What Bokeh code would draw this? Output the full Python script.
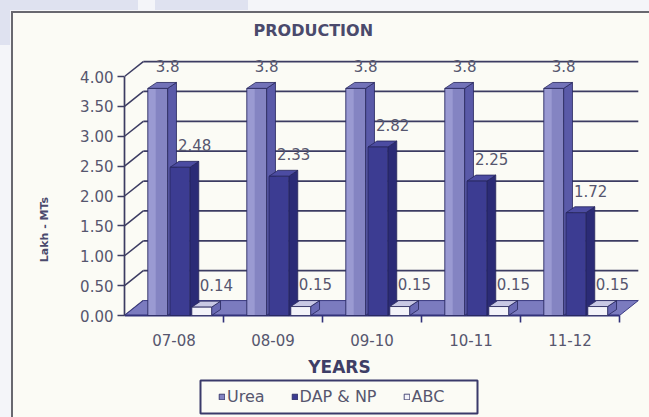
from bokeh.plotting import figure
from bokeh.models import (Range1d, FixedTicker, Label, BoxAnnotation, Legend,
                          LegendItem, NumeralTickFormatter, Title)
from bokeh.core.properties import value
from bokeh.embed import file_html
from bokeh.resources import INLINE

# ---- data -------------------------------------------------------------
years = ["07-08", "08-09", "09-10", "10-11", "11-12"]
urea = [3.8, 3.8, 3.8, 3.8, 3.8]
dap_np = [2.48, 2.33, 2.82, 2.25, 1.72]
abc = [0.14, 0.15, 0.15, 0.15, 0.15]
y_ticks = [0.0, 0.5, 1.0, 1.5, 2.0, 2.5, 3.0, 3.5, 4.0]

# ---- geometry (one x unit = one category, one y unit = 1 lakh MT) -----
W, H = 649, 417
PX_X = 99.0      # pixels per category
PX_Y = 59.75     # pixels per lakh MT
ORIGIN_X = 124   # pixel column of the front value axis
ORIGIN_Y = 315   # pixel row of the zero line
TOP = 41         # pixel row where the plotting frame starts


def ux(px):
    return (px - ORIGIN_X) / PX_X


def uy(py):
    return (ORIGIN_Y - py) / PX_Y


WALL_DX, WALL_DY = 0.19, 0.25      # depth of the back wall
BAR_DX, BAR_DY = 0.09, 0.10        # depth of each column
BAR_W = 0.20

FONT = "DejaVu Sans"
TXT = "#56566e"
GRID = "#3c3c62"
EDGE = "#26265c"
CREAM = "#fbfbf5"

p = figure(width=W, height=H, output_backend="svg", toolbar_location=None,
           x_range=Range1d(0, ux(W)), y_range=Range1d(uy(H), uy(TOP)),
           x_axis_location=None,
           min_border_left=ORIGIN_X, min_border_right=0, min_border_top=TOP,
           min_border_bottom=0)
p.background_fill_alpha = 0
p.border_fill_alpha = 0
p.outline_line_color = None
p.grid.visible = False

# page backdrop: chart frame lines, cream panel and the header tabs
p.styles = {
    "background": ", ".join([
        "linear-gradient(#dfe2f0,#dfe2f0) 0px 0px / 138px 10px no-repeat",
        "linear-gradient(#dfe2f0,#dfe2f0) 155px 0px / 93px 10px no-repeat",
        "linear-gradient(#dfe2f0,#dfe2f0) 0px 0px / 10px 45px no-repeat",
        "linear-gradient(#68686f,#68686f) 11px 11px / 2px 406px no-repeat",
        "linear-gradient(#68686f,#68686f) 11px 11px / 638px 2px no-repeat",
        f"linear-gradient({CREAM},{CREAM}) 13px 13px / 636px 404px no-repeat",
        "#f4f5f9",
    ])
}

# ---- chart title ------------------------------------------------------------
p.add_layout(Title(text="PRODUCTION", align="left", offset=253 - ORIGIN_X,
                   standoff=4, text_font=FONT, text_font_size="16px",
                   text_font_style="bold", text_color="#4a4a6c"), "above")

# ---- back wall, side wall and floor ------------------------------------
n = len(years)
wall_levels = [v for v in y_ticks if v > 0]
p.segment(x0=[WALL_DX] * len(wall_levels), x1=[n + WALL_DX] * len(wall_levels),
          y0=[v + WALL_DY for v in wall_levels], y1=[v + WALL_DY for v in wall_levels],
          line_color=GRID, line_width=1.7)
p.segment(x0=[0] * len(y_ticks), x1=[WALL_DX] * len(y_ticks),
          y0=y_ticks, y1=[v + WALL_DY for v in y_ticks],
          line_color=GRID, line_width=1.5)

p.patch(x=[0, n, n + WALL_DX, WALL_DX], y=[0, 0, WALL_DY, WALL_DY],
        fill_color="#7b7bbf", line_color="#3a3a82", line_width=1)
p.segment(x0=[0], x1=[n], y0=[0], y1=[0], line_color="#32327a", line_width=2.2)
p.segment(x0=list(range(1, n + 1)), x1=list(range(1, n + 1)),
          y0=[0] * n, y1=[-7 / PX_Y] * n, line_color="#32327a", line_width=1.6)


# ---- 3-D columns --------------------------------------------------------
def column(offset, values, front, side, top, shine=None):
    lefts = [i + offset - BAR_W / 2 for i in range(n)]
    rights = [x + BAR_W for x in lefts]
    side_xs = [[r, r + BAR_DX, r + BAR_DX, r] for r in rights]
    side_ys = [[0, BAR_DY, v + BAR_DY, v] for v in values]
    top_xs = [[l, r, r + BAR_DX, l + BAR_DX] for l, r in zip(lefts, rights)]
    top_ys = [[v, v, v + BAR_DY, v + BAR_DY] for v in values]
    p.patches(xs=side_xs, ys=side_ys, fill_color=side, line_color=EDGE,
              line_width=0.8)
    p.patches(xs=top_xs, ys=top_ys, fill_color=top, line_color=EDGE,
              line_width=0.8)
    face = p.vbar(x=[i + offset for i in range(n)], top=values, bottom=0,
                  width=BAR_W, fill_color=front, line_color=EDGE, line_width=0.8)
    if shine:
        # lighter strip down the lit edge of each front face
        p.vbar(x=[l + 0.045 for l in lefts], top=[v - 0.01 for v in values],
               bottom=0.01, width=0.07, fill_color=shine, line_color=None)
    p.text(x=[l + 0.08 for l in lefts], y=[v + 0.27 for v in values],
           text=[str(v) for v in values], text_font=value(FONT),
           text_font_size="15px", text_color=TXT, text_baseline="bottom")
    return face


r_urea = column(0.335, urea, "#8484c2", "#5a5aa8", "#7272b8", shine="#9a9ad2")
r_dap = column(0.56, dap_np, "#3c3c92", "#2b2b76", "#4c4ca2")
r_abc = column(0.78, abc, "#f3f3f9", "#6a6ab4", "#c8c8e4")

# ---- category labels ------------------------------------------------------
p.text(x=[i + 0.5 for i in range(n)], y=[uy(339)] * n, text=years,
       text_font=value(FONT), text_font_size="15px", text_color=TXT,
       text_align="center", text_baseline="middle")

# ---- value axis -------------------------------------------------------------
ya = p.yaxis[0]
ya.ticker = FixedTicker(ticks=y_ticks)
ya.formatter = NumeralTickFormatter(format="0.00")
ya.bounds = (0, 4)
ya.axis_line_color = GRID
ya.axis_line_width = 1.7
ya.major_tick_line_color = GRID
ya.major_tick_line_width = 1.5
ya.major_tick_out = 7
ya.major_tick_in = 0
ya.minor_tick_line_color = None
ya.major_label_standoff = 4
ya.major_label_text_font = FONT
ya.major_label_text_font_size = "15px"
ya.major_label_text_color = TXT
ya.axis_label = "Lakh - MTs"
ya.axis_label_standoff = 26
ya.axis_label_text_font = FONT
ya.axis_label_text_font_size = "11px"
ya.axis_label_text_font_style = "bold"
ya.axis_label_text_color = "#4a4a6c"

# ---- category axis title -----------------------------------------------------
p.add_layout(Label(x=ux(339), y=uy(366), text="YEARS", text_font=FONT,
                   text_font_size="17px", text_font_style="bold",
                   text_color="#3e3e66", text_align="center",
                   text_baseline="middle"))

# ---- legend ---------------------------------------------------------------------
p.add_layout(BoxAnnotation(left=ux(200), right=ux(477), top=uy(380), bottom=uy(413),
                           fill_color=CREAM, fill_alpha=1, line_color="#3a3a6a",
                           line_alpha=1, line_width=2))
legend = Legend(items=[LegendItem(label="Urea", renderers=[r_urea]),
                       LegendItem(label="DAP & NP", renderers=[r_dap]),
                       LegendItem(label="ABC", renderers=[r_abc])],
                orientation="horizontal", location=(218 - ORIGIN_X, 11),
                border_line_color=None, background_fill_alpha=0,
                label_text_font=FONT, label_text_font_size="16px",
                label_text_color=TXT, glyph_width=7, glyph_height=7,
                spacing=26, padding=0, label_standoff=2, margin=0)
p.add_layout(legend)

open("out.html", "w").write(file_html(p, INLINE))
